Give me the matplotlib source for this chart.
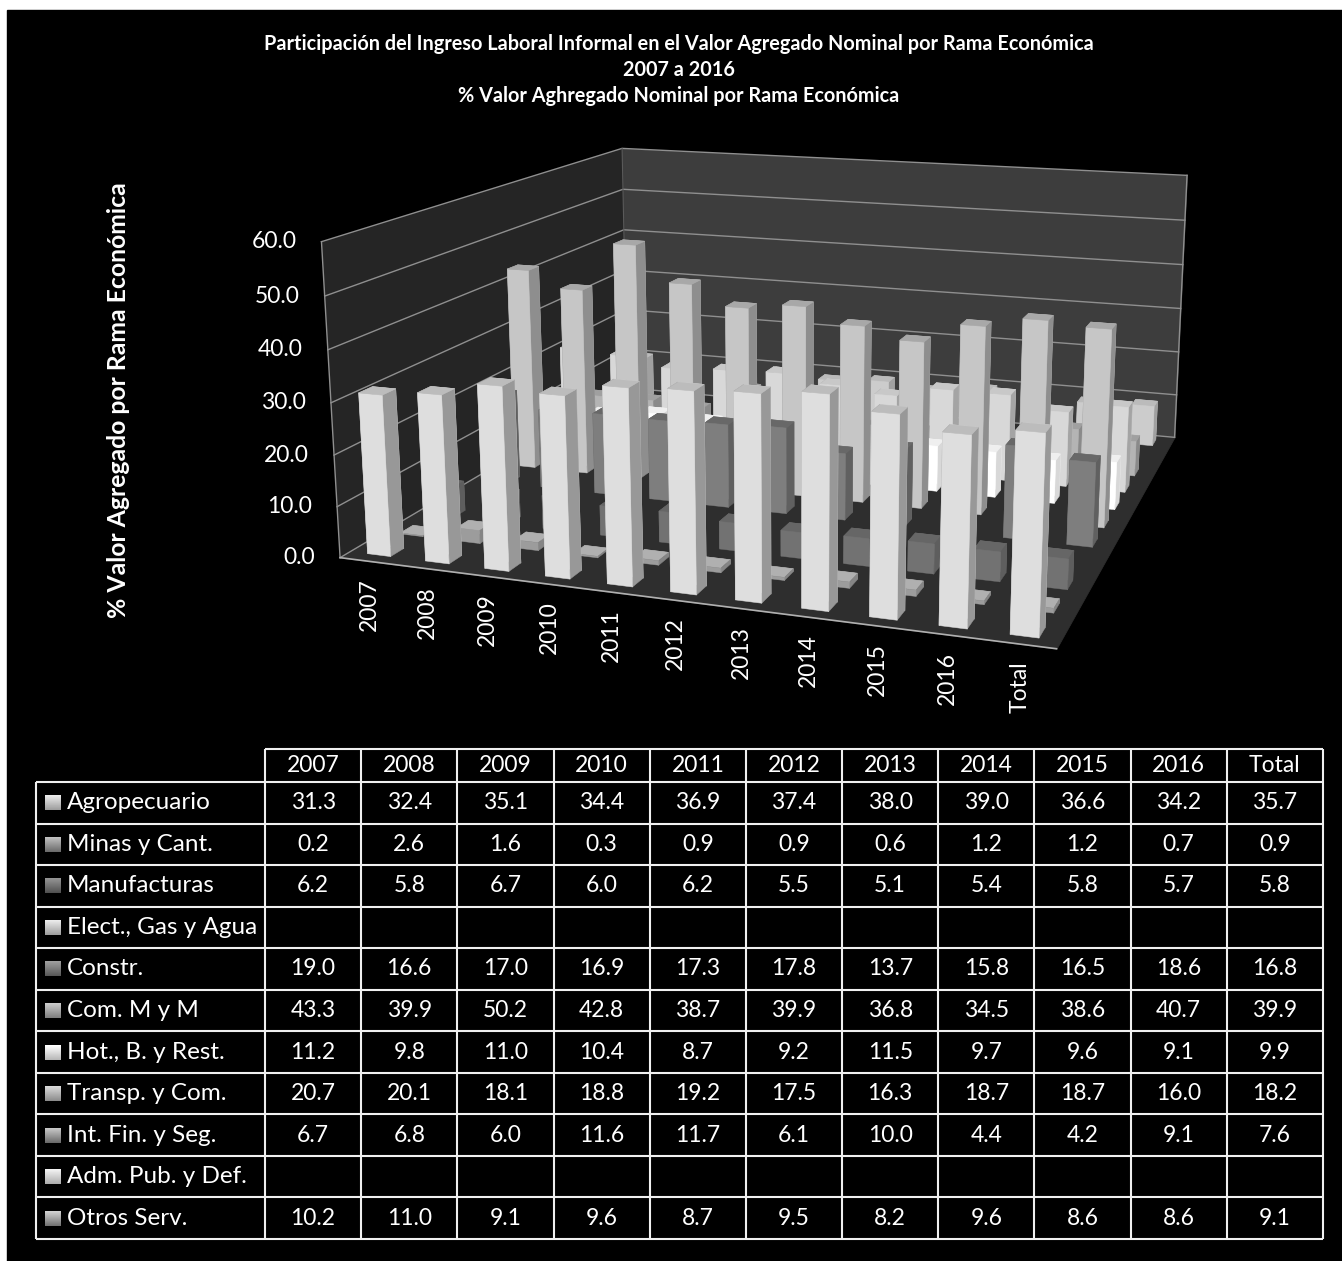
import numpy as np
import matplotlib
matplotlib.use("Agg")
import matplotlib.pyplot as plt
from matplotlib.patches import Rectangle
from mpl_toolkits.mplot3d import proj3d
from mpl_toolkits.mplot3d.art3d import Poly3DCollection

plt.rcParams["font.family"] = ["Lato", "DejaVu Sans"]

# Data
years = ["2007", "2008", "2009", "2010", "2011", "2012", "2013", "2014", "2015", "2016", "Total"]
ramas = ["Agropecuario", "Minas y Cant.", "Manufacturas", "Elect., Gas y Agua", "Constr.", "Com. M y M",
         "Hot., B. y Rest.", "Transp. y Com.", "Int. Fin. y Seg.", "Adm. Pub. y Def.", "Otros Serv."]
agropecuario = [31.3, 32.4, 35.1, 34.4, 36.9, 37.4, 38.0, 39.0, 36.6, 34.2, 35.7]
minas = [0.2, 2.6, 1.6, 0.3, 0.9, 0.9, 0.6, 1.2, 1.2, 0.7, 0.9]
manufacturas = [6.2, 5.8, 6.7, 6.0, 6.2, 5.5, 5.1, 5.4, 5.8, 5.7, 5.8]
electricidad = [None] * 11
construccion = [19.0, 16.6, 17.0, 16.9, 17.3, 17.8, 13.7, 15.8, 16.5, 18.6, 16.8]
comercio = [43.3, 39.9, 50.2, 42.8, 38.7, 39.9, 36.8, 34.5, 38.6, 40.7, 39.9]
hoteles = [11.2, 9.8, 11.0, 10.4, 8.7, 9.2, 11.5, 9.7, 9.6, 9.1, 9.9]
transporte = [20.7, 20.1, 18.1, 18.8, 19.2, 17.5, 16.3, 18.7, 18.7, 16.0, 18.2]
financiero = [6.7, 6.8, 6.0, 11.6, 11.7, 6.1, 10.0, 4.4, 4.2, 9.1, 7.6]
administracion = [None] * 11
otros = [10.2, 11.0, 9.1, 9.6, 8.7, 9.5, 8.2, 9.6, 8.6, 8.6, 9.1]
series = [agropecuario, minas, manufacturas, electricidad, construccion, comercio,
          hoteles, transporte, financiero, administracion, otros]
z_ticks = [0, 10, 20, 30, 40, 50, 60]

# Shades per series: front, side, top
shades = [("#dedede", "#989898", "#bcbcbc"), ("#9c9c9c", "#858585", "#b0b0b0"), ("#727272", "#5e5e5e", "#666666"),
          None, ("#7e7e7e", "#606060", "#686868"), ("#c6c6c6", "#8e8e8e", "#a8a8a8"),
          ("#ffffff", "#d8d8d8", "#efefef"), ("#d8d8d8", "#a4a4a4", "#c8c8c8"), ("#b4b4b4", "#8a8a8a", "#a0a0a0"),
          None, ("#cccccc", "#a0a0a0", "#bbbbbb")]
key_shades = [(0.92, 0.62), (0.75, 0.42), (0.58, 0.32), (0.92, 0.62), (0.62, 0.35), (0.80, 0.50),
              (1.0, 0.72), (0.85, 0.55), (0.78, 0.42), (0.95, 0.68), (0.82, 0.45)]

W, H = 1342, 1261
fig = plt.figure(figsize=(W / 100, H / 100), dpi=100, facecolor="white")

# page: pixel coordinates for background and the data table
page = fig.add_axes([0, 0, 1, 1], zorder=0)
page.set_xlim(0, W)
page.set_ylim(H, 0)
page.axis("off")
page.add_patch(Rectangle((7, 10), W, H, color="black", zorder=0))

title_kw = dict(color="white", fontsize=14.35, fontweight="bold", ha="center", va="center")
fig.text(679 / W, 1 - 44.5 / H, "Participación del Ingreso Laboral Informal en el Valor Agregado Nominal por Rama Económica", **title_kw)
fig.text(679 / W, 1 - 70.5 / H, "2007 a 2016", **title_kw)
fig.text(679 / W, 1 - 96.5 / H, "% Valor Aghregado Nominal por Rama Económica", **title_kw)
fig.text(119 / W, 1 - 400 / H, "% Valor Agregado por Rama Económica", color="white", fontsize=17.8,
         fontweight="bold", rotation=90, ha="center", va="center")

# table
col_edges = np.linspace(265, 1323, 12)
row_edges = np.linspace(782, 1239, 12)
line_kw = dict(color="#f0f0f0", linewidth=1.5, zorder=2)
page.hlines(749, col_edges[0], col_edges[-1], **line_kw)
page.hlines(row_edges, 36, col_edges[-1], **line_kw)
page.vlines(col_edges, 749, row_edges[-1], **line_kw)
page.vlines(36, row_edges[0], row_edges[-1], **line_kw)
for c, year in enumerate(years):
    xc = (col_edges[c] + col_edges[c + 1]) / 2
    page.text(xc, 766, year, color="white", fontsize=16.5, ha="center", va="center")
for r, rama in enumerate(ramas):
    yc = (row_edges[r] + row_edges[r + 1]) / 2
    page.text(67, yc, rama, color="white", fontsize=17.5, ha="left", va="center")
    grad = np.linspace(key_shades[r][0], key_shades[r][1], 15).reshape(-1, 1)
    page.imshow(grad, cmap="gray", vmin=0, vmax=1, extent=(45, 61, yc + 7.5, yc - 7.5), aspect="auto", zorder=2)
    for c in range(11):
        value = series[r][c]
        if value is not None:
            xc = (col_edges[c] + col_edges[c + 1]) / 2
            page.text(xc, yc, f"{value:.1f}", color="white", fontsize=16.5, ha="center", va="center")
page.set_xlim(0, W)
page.set_ylim(H, 0)

# 3D chart, camera fitted against the corners of the walls
scale, tx, ty = 5118.26, 797.99, 350.97
side = scale * 0.185
left = tx - 0.095 * scale
top = ty - 0.09 * scale
ax = fig.add_axes([left / W, 1 - (top + side) / H, side / W, side / H], projection="3d", zorder=1)
ax.set_facecolor("none")
ax.computed_zorder = False
ax.set_axis_off()
ax.view_init(elev=13.6484, azim=-70.9785)
ax.set_proj_type("persp", focal_length=0.3786)
ax.set_box_aspect((1, 0.9729, 0.4422))

nx, ny, zmax = len(years), len(ramas), z_ticks[-1]
left_wall = [(0, 0, 0), (0, ny, 0), (0, ny, zmax), (0, 0, zmax)]
back_wall = [(0, ny, 0), (nx, ny, 0), (nx, ny, zmax), (0, ny, zmax)]
floor = [(0, 0, 0), (nx, 0, 0), (nx, ny, 0), (0, ny, 0)]
for verts, col in [(left_wall, "#252525"), (back_wall, "#3d3d3d"), (floor, "#2e2e2e")]:
    ax.add_collection3d(Poly3DCollection([verts], facecolors=col, edgecolors=col, linewidths=0.5, zorder=1))
grid_kw = dict(color="#8f8f8f", linewidth=1.0, zorder=2)
for v in z_ticks:
    ax.plot([0, 0, nx], [0, ny, ny], [v, v, v], **grid_kw)
ax.plot([0, 0], [0, 0], [0, zmax], **grid_kw)
ax.plot([nx, nx], [ny, ny], [0, zmax], **grid_kw)
ax.plot([0, 0], [ny, ny], [0, zmax], color="#5a5a5a", linewidth=0.8, zorder=2)
ax.plot([0, nx], [0, 0], [0, 0], color="#b0b0b0", linewidth=1.2, zorder=2)

# bars: painted from the back row to the front, far column first
bar_w = 0.4
order = 10
for s in range(ny - 1, -1, -1):
    if shades[s] is None:
        continue
    front, right, cap = shades[s]
    faces = ["#000000", cap, front, front, right, right]
    for c in range(nx):
        order += 1
        ax.bar3d(c + (1 - bar_w) / 2, s + (1 - bar_w) / 2, 0, bar_w, bar_w, series[s][c],
                 color=faces, edgecolors=faces, linewidths=0.4, shade=False, zorder=order)

ax.set_xlim(0, nx, view_margin=0)
ax.set_ylim(0, ny, view_margin=0)
ax.set_zlim(0, zmax, view_margin=0)


def to_pixels(x, y, z):
    """Display position of a point of the 3D box."""
    xp, yp, _ = proj3d.proj_transform(x, y, z, ax.get_proj())
    return ax.transData.transform((xp, yp))


# tick labels sit at a fixed pixel distance from the box edges
for v in z_ticks:
    px, py = to_pixels(0, 0, v)
    fig.text((px - 25) / W, py / H, f"{v:.1f}", color="white", fontsize=16.5, ha="right", va="center")
for c, year in enumerate(years):
    px, py = to_pixels(c + 0.5, 0, 0)
    fig.text(px / W, (py - 17) / H, year, color="white", fontsize=16.5, rotation=90, ha="center", va="top")

fig.savefig("out.png", dpi=100)
